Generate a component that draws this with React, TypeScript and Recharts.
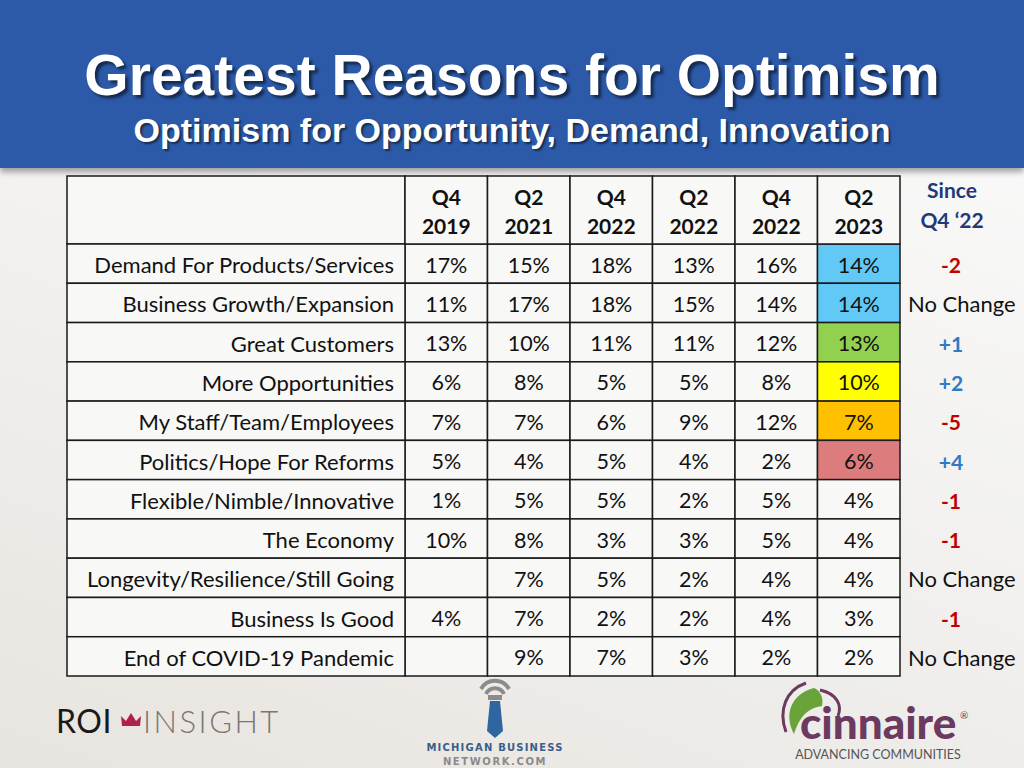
import { ScatterChart, Scatter, XAxis, YAxis } from 'recharts'

// rows of the table
const reasons = [
  'Demand For Products/Services',
  'Business Growth/Expansion',
  'Great Customers',
  'More Opportunities',
  'My Staff/Team/Employees',
  'Politics/Hope For Reforms',
  'Flexible/Nimble/Innovative',
  'The Economy',
  'Longevity/Resilience/Still Going',
  'Business Is Good',
  'End of COVID-19 Pandemic',
]

// column headers (as printed on the slide)
const periodQuarters = ['Q4', 'Q2', 'Q4', 'Q2', 'Q4', 'Q2']
const periodYears = ['2019', '2021', '2022', '2022', '2022', '2023']

// % per reason, one array per survey wave (null = not asked)
const q4_2019 = [17, 11, 13, 6, 7, 5, 1, 10, null, 4, null]
const q2_2021 = [15, 17, 10, 8, 7, 4, 5, 8, 7, 7, 9]
const q4_2022a = [18, 18, 11, 5, 6, 5, 5, 3, 5, 2, 7]
const q2_2022 = [13, 15, 11, 5, 9, 4, 2, 3, 2, 2, 3]
const q4_2022 = [16, 14, 12, 8, 12, 2, 5, 5, 4, 4, 2]
const q2_2023 = [14, 14, 13, 10, 7, 6, 4, 4, 4, 3, 2]

const sinceQ4_22 = ['-2', 'No Change', '+1', '+2', '-5', '+4', '-1', '-1', 'No Change', '-1', 'No Change']

const waves = [q4_2019, q2_2021, q4_2022a, q2_2022, q4_2022, q2_2023]

// styling / layout
const W = 1024
const H = 768
const TABLE_TOP = 176
const HEADER_H = 68
const LABEL_W = 338
const RIGHT_W = 124
const BOTTOM = 92
const PLOT_W = W - 67 - LABEL_W - RIGHT_W
const PLOT_H = H - TABLE_TOP - HEADER_H - BOTTOM
const CELL_W = PLOT_W / periodYears.length
const ROW_H = PLOT_H / reasons.length
const LINE = '#1a1a1a'
const CELL_BG = '#f8f8f7'
const FONT = 'Lato, "Open Sans", sans-serif'
const HIGHLIGHTS: Record<number, string> = {
  0: '#62c9f6',
  1: '#62c9f6',
  2: '#92d050',
  3: '#ffff00',
  4: '#ffc000',
  5: '#dc7c7c',
}

const cells = waves.flatMap((col, ci) =>
  col.map((v, ri) => ({ x: ci + 0.5, y: ri + 0.5, v, col: ci, row: ri }))
)
// anchors the right-hand axis (the "Since Q4 '22" column)
const changeRows = sinceQ4_22.map((s, i) => ({ x: 0, y: i + 0.5, s }))

const CellShape = (props: any) => {
  const { cx, cy, payload } = props
  const last = payload.col === waves.length - 1
  const fill = last && HIGHLIGHTS[payload.row] ? HIGHLIGHTS[payload.row] : CELL_BG
  return (
    <g>
      <rect x={cx - CELL_W / 2} y={cy - ROW_H / 2} width={CELL_W} height={ROW_H} fill={fill} stroke={LINE} strokeWidth={1.5} />
      {payload.v != null && (
        <text x={cx} y={cy + 1} textAnchor="middle" dominantBaseline="central" fontSize={21.5} fontFamily={FONT} fill="#111">
          {payload.v}%
        </text>
      )}
    </g>
  )
}

const HeaderTick = ({ x, y, index }: any) => (
  <g>
    {index === 0 && (
      <rect x={x - CELL_W / 2 - LABEL_W} y={y - HEADER_H} width={LABEL_W} height={HEADER_H} fill={CELL_BG} stroke={LINE} strokeWidth={1.5} />
    )}
    <rect x={x - CELL_W / 2} y={y - HEADER_H} width={CELL_W} height={HEADER_H} fill={CELL_BG} stroke={LINE} strokeWidth={1.5} />
    <text x={x} y={y - 48} textAnchor="middle" dominantBaseline="central" fontSize={21} fontWeight={700} fontFamily={FONT} fill="#111">
      {periodQuarters[index]}
    </text>
    <text x={x} y={y - 19} textAnchor="middle" dominantBaseline="central" fontSize={21} fontWeight={700} fontFamily={FONT} fill="#111">
      {periodYears[index]}
    </text>
  </g>
)

const LabelTick = ({ x, y, index }: any) => (
  <g>
    <rect x={x - LABEL_W} y={y - ROW_H / 2} width={LABEL_W} height={ROW_H} fill={CELL_BG} stroke={LINE} strokeWidth={1.5} />
    <text x={x - 11} y={y + 1} textAnchor="end" dominantBaseline="central" fontSize={22} fontFamily={FONT} fill="#111">
      {reasons[index]}
    </text>
  </g>
)

const ChangeTick = ({ x, y, index }: any) => {
  const s = sinceQ4_22[index]
  const color = s.startsWith('-') ? '#c00000' : s.startsWith('+') ? '#2e7ac4' : '#111'
  const isText = !s.startsWith('-') && !s.startsWith('+')
  return (
    <g>
      {index === 0 && (
        <g fontFamily={FONT} fontWeight={700} fontSize={21} fill="#1f3a78" textAnchor="middle">
          <text x={x + 52} y={y - 74} dominantBaseline="central">Since</text>
          <text x={x + 52} y={y - 44} dominantBaseline="central">Q4 ‘22</text>
        </g>
      )}
      <text
        x={isText ? x + 8 : x + 51}
        y={y + 1}
        textAnchor={isText ? 'start' : 'middle'}
        dominantBaseline="central"
        fontSize={isText ? 22 : 21}
        fontWeight={isText ? 400 : 700}
        fontFamily={FONT}
        fill={color}
      >
        {s}
      </text>
    </g>
  )
}

const rowTicks = reasons.map((_, i) => i + 0.5)
const colTicks = periodYears.map((_, i) => i + 0.5)

function Footer() {
  return (
    <svg width={W} height={H} style={{ position: 'absolute', left: 0, top: 0, pointerEvents: 'none' }}>
      {/* ROI Insight */}
      <text x={56} y={733} fontSize={32} fontFamily={FONT} fill="#1a1a1a" letterSpacing={0.5}>ROI</text>
      <path d="M122,726 L140,726 L141,716 L136,721 L131,713 L126,721 L121,716 Z" fill="#b0214a" />
      <text x={143} y={733} fontSize={31} fontWeight={300} fontFamily={FONT} fill="#7a7672" letterSpacing={2.5}>INSIGHT</text>

      {/* Michigan Business Network */}
      <path d="M481,689 A16,16 0 0 1 509,689" stroke="#8c8c8c" strokeWidth={4} fill="none" />
      <path d="M486,694 A10,10 0 0 1 504,694" stroke="#8c8c8c" strokeWidth={4} fill="none" />
      <rect x={488} y={695} width={14} height={5} fill="#8c8c8c" />
      <path d="M490,701 L500,701 L503,731 L495,738 L487,731 Z" fill="#2f66a0" />
      <text x={495} y={751} textAnchor="middle" fontSize={10} fontWeight={700} fontFamily="'DejaVu Sans', sans-serif" fill="#3b5d88" letterSpacing={1.2}>MICHIGAN BUSINESS</text>
      <text x={495} y={765} textAnchor="middle" fontSize={10} fontWeight={700} fontFamily="'DejaVu Sans', sans-serif" fill="#8a8a8a" letterSpacing={1.6}>NETWORK.COM</text>

      {/* Cinnaire */}
      <path d="M806,683 C786,690 778,710 786,732" stroke="#6b3a5e" strokeWidth={3} fill="none" />
      <path d="M814,688 C790,694 784,716 794,734 C800,716 808,708 822,706 C824,698 820,690 814,688 Z" fill="#6aa33a" />
      <path d="M820,690 C838,694 842,706 838,716" stroke="#6b3a5e" strokeWidth={3} fill="none" />
      <text x={800} y={739} fontSize={44} fontWeight={900} fontFamily={FONT} fill="#6b3a5e">cinnaire</text>
      <text x={960} y={719} fontSize={10} fontFamily={FONT} fill="#6b3a5e">®</text>
      <text x={878} y={759} textAnchor="middle" fontSize={12.5} fontFamily={FONT} fill="#555">ADVANCING COMMUNITIES</text>
    </svg>
  )
}

export default function App() {
  return (
    <div
      style={{
        position: 'absolute',
        left: 0,
        top: 0,
        width: W,
        height: H,
        overflow: 'hidden',
        background: 'linear-gradient(200deg, #fbfbfb 0%, #f1f0ee 55%, #e8e4df 100%)',
      }}
    >
      <div
        style={{
          position: 'absolute',
          left: 0,
          top: 0,
          width: W,
          height: 168,
          background: '#2c5aa9',
          boxShadow: '0 4px 6px rgba(0,0,0,0.35)',
        }}
      />
      <div
        style={{
          position: 'absolute',
          left: 0,
          top: 42,
          width: W,
          textAlign: 'center',
          color: '#fff',
          fontFamily: '"Liberation Sans", Arial, sans-serif',
          fontWeight: 700,
          fontSize: 57,
          lineHeight: '66px',
          textShadow: '3px 3px 3px rgba(0,0,0,0.55)',
        }}
      >
        Greatest Reasons for Optimism
      </div>
      <div
        style={{
          position: 'absolute',
          left: 0,
          top: 110,
          width: W,
          textAlign: 'center',
          color: '#fff',
          fontFamily: '"Liberation Sans", Arial, sans-serif',
          fontWeight: 700,
          fontSize: 34,
          lineHeight: '40px',
          textShadow: '2px 2px 2px rgba(0,0,0,0.5)',
        }}
      >
        Optimism for Opportunity, Demand, Innovation
      </div>
      <div style={{ position: 'absolute', left: 0, top: 0 }}>
        <ScatterChart width={W} height={H} margin={{ top: TABLE_TOP, left: 67, right: 0, bottom: BOTTOM }}>
          <XAxis
            xAxisId={0}
            type="number"
            dataKey="x"
            orientation="top"
            domain={[0, periodYears.length]}
            ticks={colTicks}
            interval={0}
            height={HEADER_H}
            tickSize={0}
            tickMargin={0}
            axisLine={false}
            tickLine={false}
            tick={<HeaderTick />}
          />
          <YAxis
            yAxisId="left"
            type="number"
            dataKey="y"
            domain={[0, reasons.length]}
            reversed
            ticks={rowTicks}
            interval={0}
            width={LABEL_W}
            tickSize={0}
            tickMargin={0}
            axisLine={false}
            tickLine={false}
            tick={<LabelTick />}
          />
          <YAxis
            yAxisId="right"
            orientation="right"
            type="number"
            dataKey="y"
            domain={[0, reasons.length]}
            reversed
            ticks={rowTicks}
            interval={0}
            width={RIGHT_W}
            tickSize={0}
            tickMargin={0}
            axisLine={false}
            tickLine={false}
            tick={<ChangeTick />}
          />
          <Scatter yAxisId="left" data={cells} shape={<CellShape />} isAnimationActive={false} />
          <Scatter yAxisId="right" data={changeRows} shape={() => <g />} isAnimationActive={false} />
        </ScatterChart>
      </div>
      <Footer />
    </div>
  )
}
